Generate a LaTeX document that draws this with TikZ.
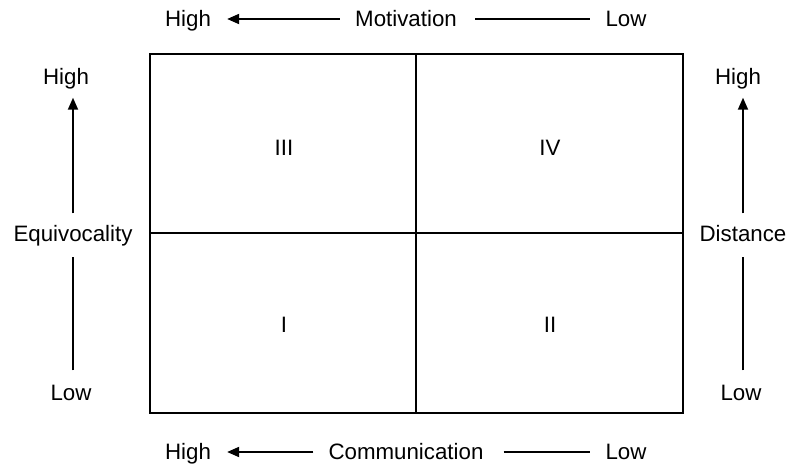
\documentclass[tikz,border=0pt]{standalone}
\usepackage{fontspec}
\setmainfont{Liberation Sans}
\usetikzlibrary{arrows.meta}
\begin{document}
\begin{tikzpicture}[x=1pt,y=-1pt,
  lbl/.style={inner sep=0pt, text height=18pt, text depth=3pt, font=\fontsize{22.3}{26}\selectfont},
  ln/.style={line width=1.8pt},
  arr/.style={ln, -{Triangle[length=12pt,width=10pt]}}]
\useasboundingbox (0,0) rectangle (790,466);
% grid
\coordinate (tl) at (150,54);
\coordinate (br) at (683,413);
\coordinate (tm) at (416,54);
\coordinate (bm) at (416,413);
\coordinate (lm) at (150,233);
\coordinate (rm) at (683,233);
\draw[ln] (tl) rectangle (br);
\draw[ln] (tm) -- (bm);
\draw[ln] (lm) -- (rm);
% quadrant labels
\node[lbl] (q3) at (284,148) {III};
\node[lbl] (q4) at (550,148) {IV};
\node[lbl] (q1) at (284,325) {I};
\node[lbl] (q2) at (550,325) {II};
% top
\node[lbl] (htop) at (188,19) {High};
\node[lbl] (mot) at (406,19) {Motivation};
\node[lbl] (ltop) at (626,19) {Low};
\draw[arr, shorten <=15pt, shorten >=16pt] (mot.west) -- (htop.east);
\draw[ln, shorten <=18pt, shorten >=15pt] (mot.east) -- (ltop.west);
% bottom
\node[lbl] (hbot) at (188,452) {High};
\node[lbl] (com) at (406,452) {Communication};
\node[lbl] (lbot) at (626,452) {Low};
\draw[arr, shorten <=15pt, shorten >=16pt] (com.west) -- (hbot.east);
\draw[ln, shorten <=20pt, shorten >=15pt] (com.east) -- (lbot.west);
% left
\node[lbl] (hl) at (66,77) {High};
\node[lbl] (eq) at (73,234) {Equivocality};
\node[lbl] (ll) at (71,393) {Low};
\draw[ln, shorten <=12pt, shorten >=12pt] (ll.north -| eq.south) -- (eq.south);
\draw[arr, shorten <=10pt, shorten >=10pt] (eq.north) -- (eq.north |- hl.south);
% right
\node[lbl] (hr) at (738,77) {High};
\node[lbl] (dist) at (743,234) {Distance};
\node[lbl] (lr) at (741,393) {Low};
\draw[ln, shorten <=12pt, shorten >=12pt] (lr.north -| dist.south) -- (dist.south);
\draw[arr, shorten <=10pt, shorten >=10pt] (dist.north) -- (dist.north |- hr.south);
\end{tikzpicture}
\end{document}
